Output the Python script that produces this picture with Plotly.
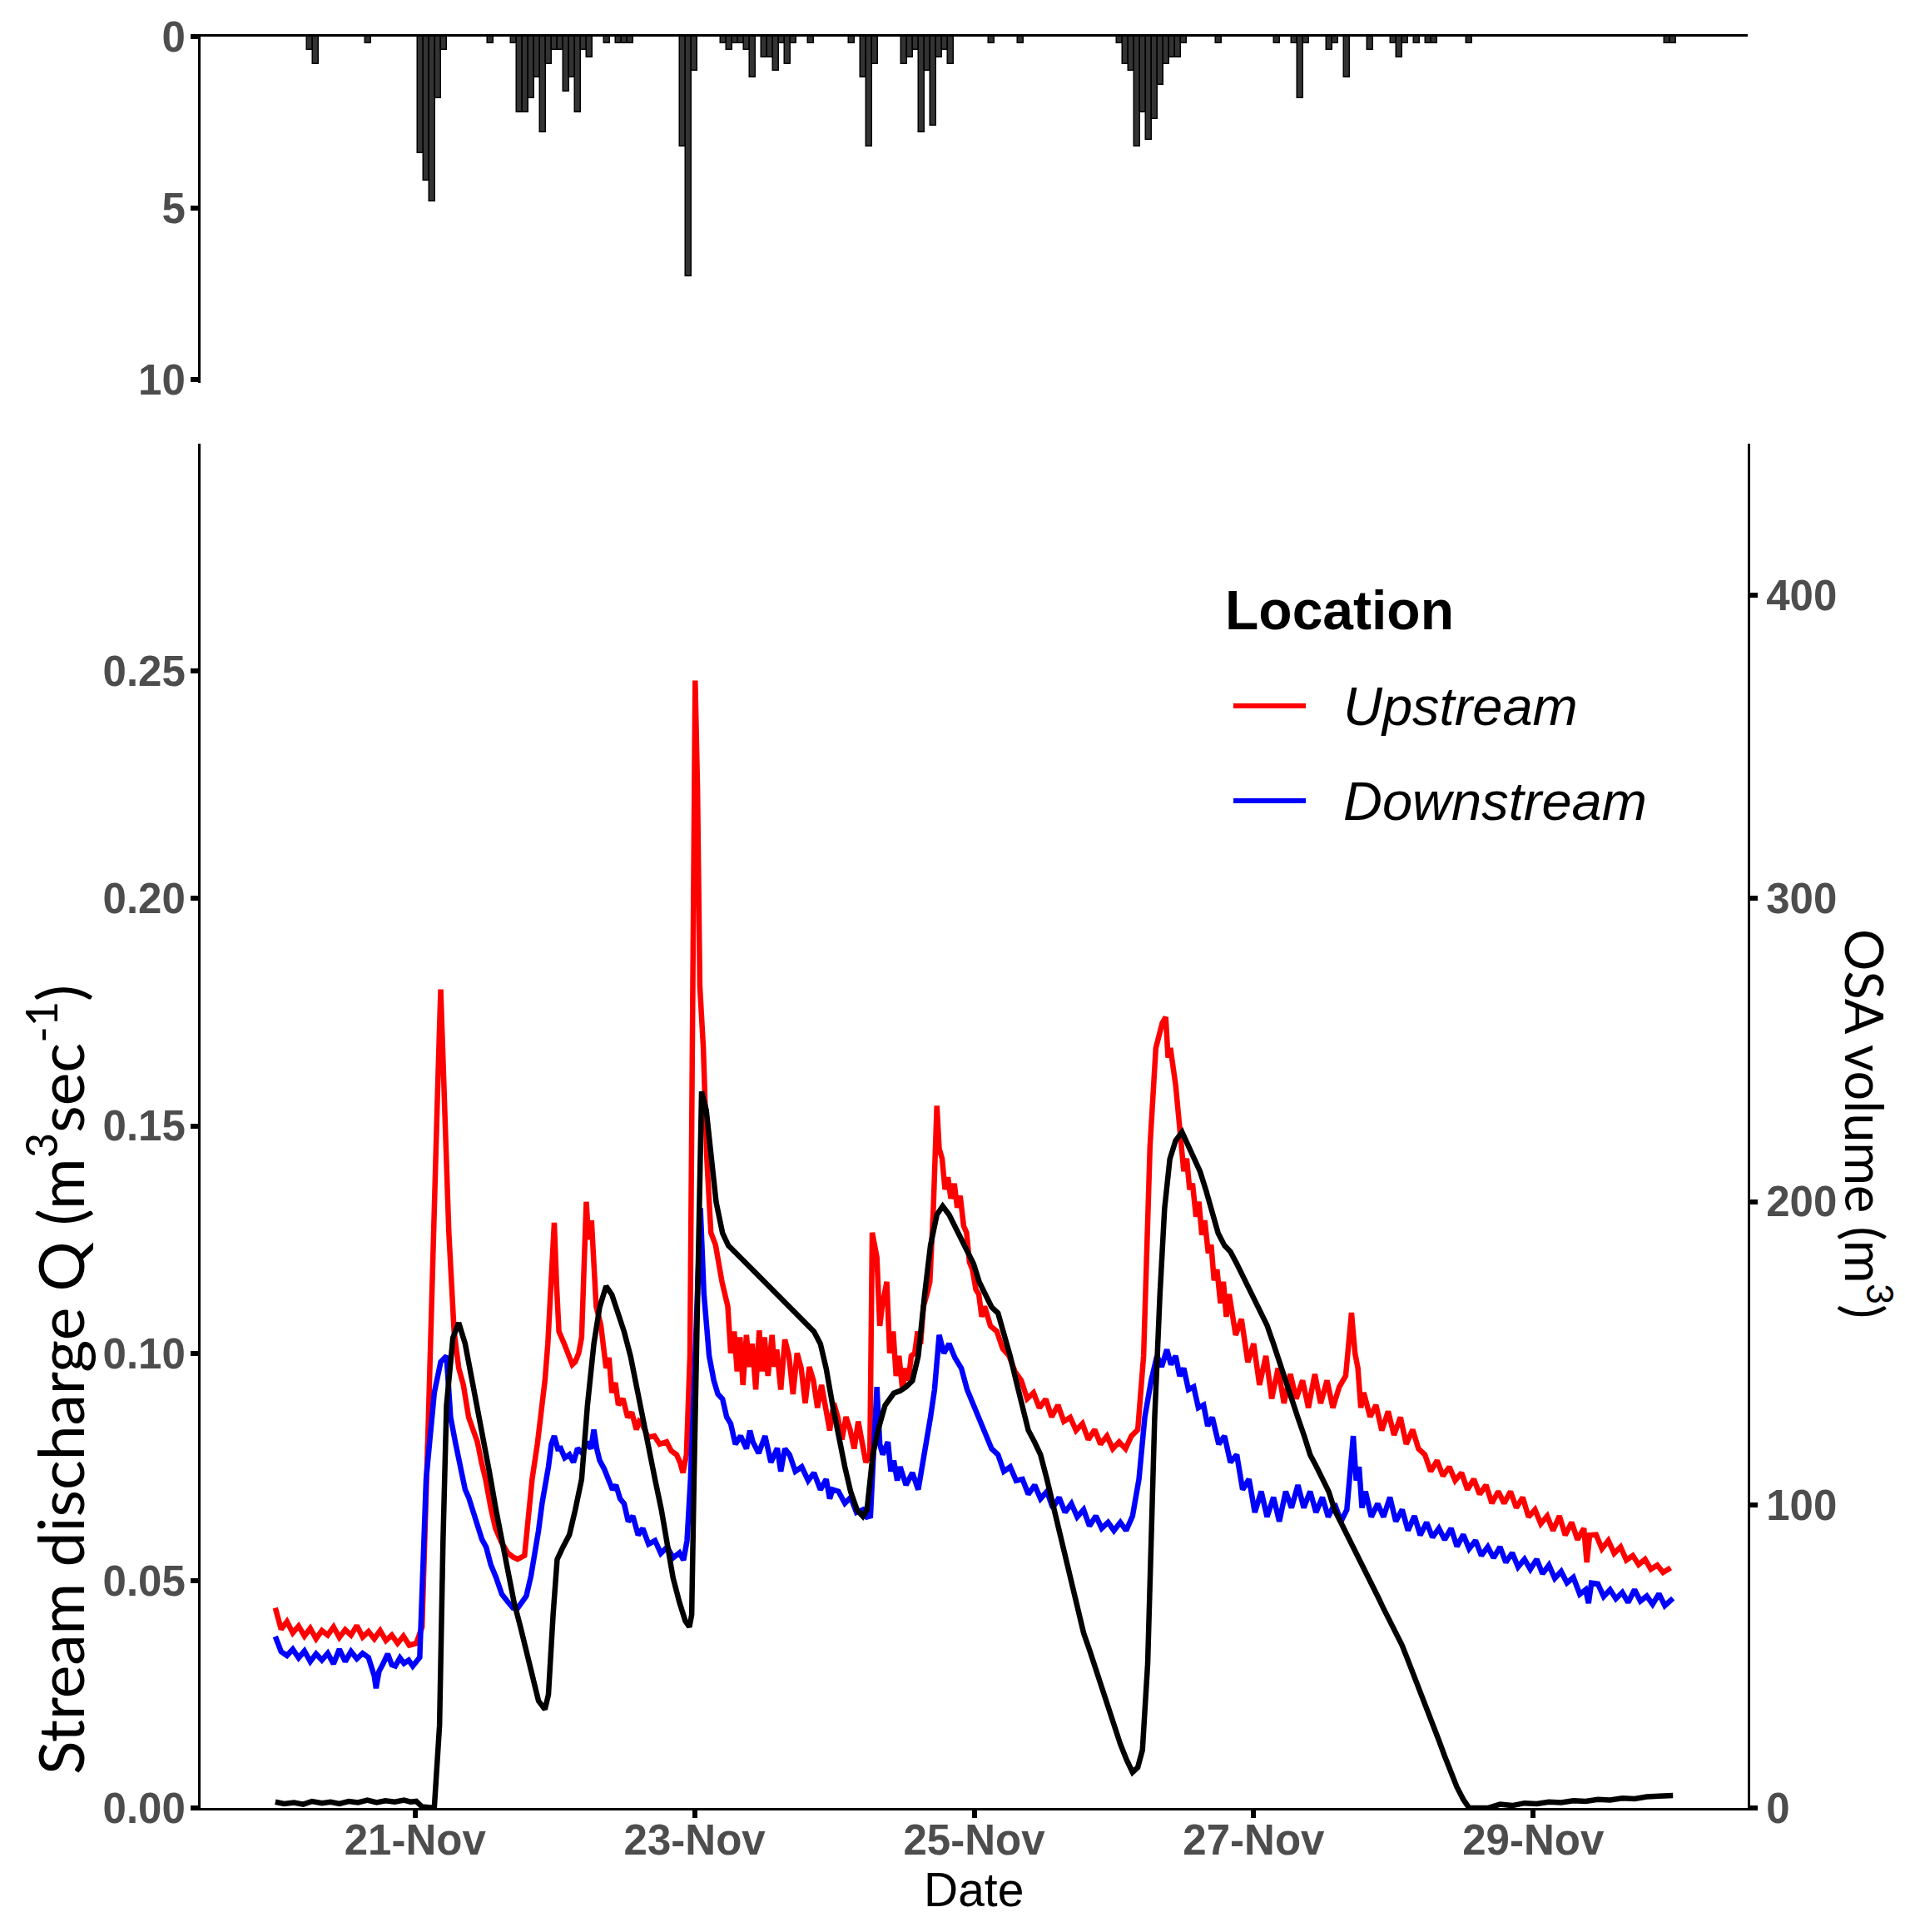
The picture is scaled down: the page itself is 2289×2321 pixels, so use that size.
import pandas as pd
import plotly.graph_objects as go

# ---------------- data ----------------
START = "2019-11-20 00:00"

# hourly rainfall (hours since START, mm)
rain_h = [6, 7, 16, 25, 26, 27, 28, 29, 37, 41, 42, 43, 44, 45, 46, 47, 48, 49, 50, 51, 52, 53, 54,
          57, 59, 60, 61, 70, 71, 72, 77, 78, 79, 80, 81, 82, 84, 85, 86, 87, 88, 89, 92, 99,
          101, 102, 103, 108, 109, 110, 111, 112, 113, 114, 115, 116, 123, 128,
          145, 146, 147, 148, 149, 150, 151, 152, 153, 154, 155, 156, 162, 172, 175, 176, 177,
          181, 182, 184, 188, 192, 193, 194, 196, 198, 199, 205, 239, 240]
rain_mm = [0.4, 0.8, 0.2, 3.4, 4.2, 4.8, 1.8, 0.4, 0.2, 0.2, 2.2, 2.2, 1.8, 1.2, 2.8, 0.8, 0.4, 0.4, 1.6, 1.2, 2.2, 0.4, 0.6,
           0.2, 0.2, 0.2, 0.2, 3.2, 7.0, 1.0, 0.2, 0.4, 0.2, 0.2, 0.4, 1.2, 0.6, 0.6, 1.0, 0.2, 0.8, 0.2, 0.2, 0.2,
           1.2, 3.2, 0.8, 0.8, 0.6, 0.4, 2.8, 1.0, 2.6, 0.6, 0.4, 0.8, 0.2, 0.2,
           0.2, 0.8, 1.0, 3.2, 2.2, 3.0, 2.4, 1.4, 0.8, 0.6, 0.6, 0.2, 0.2, 0.2, 0.2, 1.8, 0.2,
           0.4, 0.2, 1.2, 0.4, 0.2, 0.6, 0.2, 0.2, 0.2, 0.2, 0.2, 0.2, 0.2]

# Upstream discharge (hours since START, m3/s)
up_h = [0.0, 1.0, 2.0, 3.0, 4.0, 5.0, 6.0, 7.0, 8.0, 9.0, 10.0, 11.0, 12.0, 13.0, 14.0, 15.0, 16.0, 17.0, 18.0, 19.0,
        20.0, 21.0, 22.0, 23.0, 24.2, 25.2, 26.3, 27.3, 27.9, 28.4, 29.0, 29.8, 30.7, 31.5, 32.3, 33.2, 34.0, 34.7,
        35.4, 36.1, 37.0, 37.8, 38.8, 39.9, 40.8, 41.6, 42.8, 43.5, 44.1, 45.0, 45.8, 46.3, 46.8, 47.4, 47.9, 48.3,
        48.7, 49.6, 50.4, 51.0, 51.5, 52.1, 52.6, 53.0, 53.4, 53.8, 54.3, 55.1, 55.9, 56.8, 57.3, 57.8, 58.4, 58.9,
        59.7, 60.5, 61.2, 62.0, 62.5, 63.0, 64.0, 65.1, 66.0, 67.2, 68.0, 68.9, 69.5, 70.0, 70.6, 71.2, 71.8, 72.1,
        72.5, 72.9, 73.5, 74.1, 74.8, 75.6, 76.7, 77.7, 78.2, 78.8, 79.3, 79.8, 80.3, 80.9, 81.4, 81.9, 82.5, 83.1,
        83.6, 84.0, 84.6, 85.3, 85.7, 86.1, 86.8, 87.5, 88.2, 88.9, 89.6, 90.3, 91.0, 91.7, 92.4, 93.1, 93.8, 94.5,
        95.2, 95.9, 96.6, 97.3, 98.0, 98.7, 99.4, 100.1, 100.8, 101.4, 102.1, 102.5, 103.3, 103.8, 104.2, 105.0,
        105.5, 106.1, 106.6, 107.1, 107.7, 108.2, 108.7, 109.2, 109.8, 110.3, 110.8, 111.3, 111.9, 112.4, 113.0,
        113.6, 114.0, 114.5, 115.0, 115.5, 116.0, 116.6, 117.1, 117.6, 118.2, 118.7, 119.2, 119.7, 120.3, 120.8,
        121.3, 121.8, 122.8, 123.9, 124.9, 126.0, 127.0, 128.1, 129.1, 130.2, 131.2, 132.3, 133.3, 134.4, 135.4,
        136.5, 137.5, 138.6, 139.6, 140.7, 141.7, 142.8, 143.8, 144.9, 146.0, 147.0, 148.1, 149.1, 150.2, 151.2,
        152.3, 152.9, 153.3, 153.7, 154.6, 155.4, 156.0, 156.5, 157.0, 157.5, 158.1, 158.6, 159.1, 159.6, 160.2,
        160.7, 161.2, 161.7, 162.3, 162.8, 163.3, 163.8, 164.9, 165.9, 167.0, 168.0, 169.0, 170.1, 171.1, 172.2,
        173.2, 174.3, 175.3, 176.4, 177.4, 178.5, 179.5, 180.6, 181.6, 182.7, 183.8, 184.8, 185.4, 185.9, 186.4,
        186.9, 188.0, 189.0, 190.0, 191.1, 192.1, 193.2, 194.2, 195.3, 196.3, 197.4, 198.4, 199.5, 200.5, 201.6,
        202.6, 203.7, 204.7, 205.8, 206.8, 207.9, 208.9, 210.0, 211.0, 212.1, 213.1, 214.2, 215.2, 216.3, 217.3,
        218.4, 219.4, 220.5, 221.5, 222.6, 223.6, 224.7, 225.2, 225.7, 226.8, 227.8, 228.9, 229.9, 231.0, 232.0,
        233.1, 234.1, 235.2, 236.2, 237.3, 238.3, 239.6]
up_q = [0.0440, 0.0393, 0.0410, 0.0385, 0.0400, 0.0378, 0.0395, 0.0372, 0.0390, 0.0380, 0.0398, 0.0375, 0.0392,
        0.0380, 0.0401, 0.0376, 0.0388, 0.0372, 0.0390, 0.0368, 0.0380, 0.0362, 0.0378, 0.0358, 0.0362, 0.0398,
        0.0859, 0.1373, 0.1590, 0.1800, 0.1536, 0.1265, 0.1048, 0.0967, 0.0930, 0.0859, 0.0830, 0.0805, 0.0760,
        0.0723, 0.0660, 0.0615, 0.0585, 0.0561, 0.0552, 0.0547, 0.0555, 0.0640, 0.0723, 0.0800, 0.0886, 0.0940,
        0.1021, 0.1150, 0.1287, 0.1150, 0.1048, 0.1021, 0.0994, 0.0975, 0.0981, 0.1000, 0.1035, 0.1200, 0.1333,
        0.1250, 0.1292, 0.1103, 0.1062, 0.0967, 0.0990, 0.0913, 0.0935, 0.0886, 0.0900, 0.0859, 0.0870, 0.0832,
        0.0850, 0.0845, 0.0815, 0.0818, 0.0800, 0.0805, 0.0785, 0.0777, 0.0760, 0.0737, 0.0777, 0.0994, 0.1915,
        0.2479, 0.2240, 0.1807, 0.1671, 0.1428, 0.1265, 0.1238, 0.1157, 0.1103, 0.1000, 0.1048, 0.0960, 0.1035,
        0.0930, 0.1040, 0.0970, 0.1021, 0.0920, 0.1050, 0.0960, 0.1035, 0.0950, 0.1040, 0.0970, 0.1008, 0.0920,
        0.1030, 0.0994, 0.0910, 0.1000, 0.0967, 0.0890, 0.0970, 0.0940, 0.0880, 0.0930, 0.0886, 0.0830, 0.0890,
        0.0859, 0.0810, 0.0860, 0.0832, 0.0790, 0.0850, 0.0805, 0.0760, 0.0777, 0.1265, 0.1211, 0.1060, 0.1103,
        0.1157, 0.1000, 0.1048, 0.0950, 0.0994, 0.0920, 0.0967, 0.0940, 0.0994, 0.1000, 0.1048, 0.1020, 0.1103,
        0.1130, 0.1157, 0.1319, 0.1544, 0.1450, 0.1428, 0.1360, 0.1387, 0.1340, 0.1373, 0.1320, 0.1346, 0.1280,
        0.1265, 0.1200, 0.1184, 0.1140, 0.1130, 0.1080, 0.1103, 0.1060, 0.1048, 0.1010, 0.0994, 0.0960, 0.0940,
        0.0900, 0.0913, 0.0880, 0.0899, 0.0860, 0.0886, 0.0850, 0.0859, 0.0830, 0.0845, 0.0810, 0.0832, 0.0800,
        0.0818, 0.0790, 0.0805, 0.0790, 0.0818, 0.0832, 0.0994, 0.1455, 0.1671, 0.1726, 0.1739, 0.1650, 0.1671,
        0.1590, 0.1482, 0.1400, 0.1428, 0.1360, 0.1373, 0.1300, 0.1333, 0.1260, 0.1292, 0.1220, 0.1238, 0.1160,
        0.1184, 0.1110, 0.1157, 0.1080, 0.1130, 0.1040, 0.1075, 0.0980, 0.1021, 0.0930, 0.0994, 0.0900, 0.0967,
        0.0890, 0.0954, 0.0900, 0.0940, 0.0880, 0.0954, 0.0890, 0.0940, 0.0880, 0.0926, 0.0950, 0.1089, 0.1000,
        0.0967, 0.0880, 0.0913, 0.0860, 0.0886, 0.0830, 0.0872, 0.0820, 0.0859, 0.0800, 0.0832, 0.0790, 0.0777,
        0.0740, 0.0764, 0.0730, 0.0750, 0.0720, 0.0737, 0.0700, 0.0723, 0.0690, 0.0710, 0.0670, 0.0696, 0.0670,
        0.0696, 0.0660, 0.0683, 0.0640, 0.0656, 0.0625, 0.0642, 0.0610, 0.0642, 0.0600, 0.0628, 0.0590, 0.0615,
        0.0540, 0.0600, 0.0601, 0.0570, 0.0588, 0.0560, 0.0574, 0.0545, 0.0555, 0.0535, 0.0547, 0.0525, 0.0534,
        0.0518, 0.0528]

# Downstream discharge (hours since START, m3/s)
down_h = [0.0, 1.0, 2.0, 3.0, 4.0, 5.0, 6.0, 7.0, 8.0, 9.0, 10.0, 11.0, 12.0, 13.0, 14.0, 15.0, 16.0, 17.0, 17.3,
          17.8, 18.5, 19.3, 20.0, 20.6, 21.4, 22.1, 22.9, 23.6, 24.8, 25.9, 27.3, 28.4, 29.4, 30.1, 30.9, 31.5, 32.0,
          32.6, 33.2, 34.0, 34.7, 35.5, 36.2, 37.0, 37.9, 38.9, 40.0, 40.8, 41.6, 42.3, 43.1, 43.9, 44.6, 45.2, 45.8,
          46.4, 46.9, 47.4, 47.9, 48.5, 49.0, 49.7, 50.5, 51.2, 51.9, 52.7, 53.6, 54.2, 54.7, 55.2, 55.7, 56.5, 57.2,
          57.9, 58.5, 59.2, 59.9, 60.6, 61.4, 62.3, 63.1, 64.1, 65.2, 66.2, 67.3, 68.3, 69.4, 70.1, 70.7, 71.3, 72.1,
          73.0, 73.6, 74.5, 75.3, 76.0, 76.8, 77.5, 78.2, 79.0, 79.9, 80.9, 81.5, 82.0, 83.0, 84.1, 85.1, 86.2, 86.8,
          87.5, 88.3, 89.3, 90.4, 91.5, 92.5, 93.6, 94.6, 95.2, 95.7, 96.7, 97.8, 98.8, 99.8, 100.9, 101.6, 102.2,
          103.3, 103.8, 104.3, 105.2, 105.7, 106.2, 106.8, 107.3, 108.3, 109.4, 110.4, 111.5, 112.5, 113.2, 114.0,
          114.8, 115.7, 116.7, 117.8, 118.8, 119.9, 120.9, 122.0, 123.0, 124.1, 125.1, 126.2, 127.2, 128.3, 129.3,
          130.4, 131.4, 132.5, 133.5, 134.6, 135.6, 136.7, 137.7, 138.8, 139.8, 140.9, 141.9, 143.0, 144.0, 145.1,
          146.1, 147.2, 148.3, 149.3, 150.4, 151.4, 152.2, 153.1, 153.8, 154.6, 155.3, 156.0, 156.8, 157.7, 158.5,
          159.4, 160.1, 160.9, 162.0, 163.0, 164.0, 165.1, 166.1, 167.2, 168.2, 169.3, 170.3, 171.4, 172.4, 173.5,
          174.5, 175.6, 176.6, 177.7, 178.7, 179.8, 180.8, 181.9, 183.0, 184.0, 185.1, 185.6, 186.1, 186.6, 187.2,
          188.2, 189.3, 190.3, 191.4, 192.4, 193.5, 194.5, 195.6, 196.6, 197.7, 198.7, 199.8, 200.8, 201.9, 202.9,
          204.0, 205.0, 206.1, 207.1, 208.2, 209.2, 210.3, 211.3, 212.4, 213.4, 214.5, 215.5, 216.6, 217.6, 218.7,
          219.7, 220.8, 221.8, 222.9, 224.0, 225.0, 225.5, 226.0, 227.1, 228.1, 229.2, 230.2, 231.3, 232.3, 233.4,
          234.4, 235.5, 236.5, 237.6, 238.6, 240.0]
down_q = [0.0377, 0.0344, 0.0335, 0.0349, 0.0330, 0.0345, 0.0322, 0.0339, 0.0325, 0.0340, 0.0317, 0.0349, 0.0322,
          0.0344, 0.0328, 0.0340, 0.0331, 0.0290, 0.0263, 0.0300, 0.0317, 0.0339, 0.0315, 0.0312, 0.0330, 0.0318,
          0.0325, 0.0312, 0.0331, 0.0723, 0.0913, 0.0981, 0.0994, 0.0859, 0.0805, 0.0770, 0.0737, 0.0700, 0.0683,
          0.0650, 0.0615, 0.0590, 0.0574, 0.0535, 0.0507, 0.0470, 0.0452, 0.0440, 0.0439, 0.0450, 0.0466, 0.0510,
          0.0561, 0.0610, 0.0669, 0.0710, 0.0750, 0.0800, 0.0818, 0.0790, 0.0791, 0.0770, 0.0777, 0.0760, 0.0791,
          0.0780, 0.0805, 0.0790, 0.0832, 0.0790, 0.0764, 0.0745, 0.0723, 0.0700, 0.0710, 0.0680, 0.0669, 0.0630,
          0.0642, 0.0600, 0.0615, 0.0580, 0.0588, 0.0560, 0.0574, 0.0550, 0.0561, 0.0545, 0.0588, 0.0723, 0.0994,
          0.1319, 0.1130, 0.0994, 0.0940, 0.0910, 0.0899, 0.0860, 0.0845, 0.0800, 0.0818, 0.0790, 0.0830, 0.0805,
          0.0780, 0.0818, 0.0760, 0.0791, 0.0740, 0.0790, 0.0777, 0.0740, 0.0750, 0.0720, 0.0737, 0.0700, 0.0723,
          0.0680, 0.0700, 0.0696, 0.0670, 0.0683, 0.0650, 0.0656, 0.0640, 0.0642, 0.0926, 0.0800, 0.0777, 0.0805,
          0.0740, 0.0764, 0.0720, 0.0750, 0.0710, 0.0737, 0.0700, 0.0777, 0.0859, 0.0920, 0.1040, 0.1000, 0.1021,
          0.0990, 0.0967, 0.0920, 0.0886, 0.0850, 0.0818, 0.0790, 0.0777, 0.0740, 0.0750, 0.0720, 0.0723, 0.0690,
          0.0710, 0.0680, 0.0696, 0.0660, 0.0683, 0.0650, 0.0669, 0.0640, 0.0656, 0.0620, 0.0642, 0.0615, 0.0628,
          0.0610, 0.0628, 0.0610, 0.0642, 0.0723, 0.0859, 0.0940, 0.0994, 0.0970, 0.1008, 0.0975, 0.0994, 0.0950,
          0.0967, 0.0920, 0.0926, 0.0880, 0.0886, 0.0840, 0.0859, 0.0800, 0.0818, 0.0760, 0.0777, 0.0700, 0.0723,
          0.0650, 0.0696, 0.0640, 0.0683, 0.0630, 0.0696, 0.0660, 0.0710, 0.0660, 0.0696, 0.0650, 0.0683, 0.0640,
          0.0669, 0.0630, 0.0656, 0.0818, 0.0720, 0.0750, 0.0660, 0.0696, 0.0640, 0.0669, 0.0640, 0.0683, 0.0630,
          0.0656, 0.0610, 0.0642, 0.0600, 0.0628, 0.0595, 0.0615, 0.0590, 0.0615, 0.0575, 0.0601, 0.0570, 0.0588,
          0.0555, 0.0574, 0.0550, 0.0574, 0.0540, 0.0561, 0.0530, 0.0547, 0.0525, 0.0547, 0.0515, 0.0534, 0.0505,
          0.0520, 0.0495, 0.0507, 0.0470, 0.0480, 0.0450, 0.0495, 0.0493, 0.0465, 0.0480, 0.0460, 0.0474, 0.0452,
          0.0480, 0.0455, 0.0466, 0.0448, 0.0471, 0.0445, 0.0461]

# OSA volume (hours since START, m3)
osa_h = [0.0, 1.5, 3.2, 4.8, 6.3, 8.0, 9.5, 11.0, 12.6, 14.2, 15.8, 17.4, 18.9, 20.5, 22.1, 23.2, 24.2, 25.2, 27.3,
         28.2, 28.8, 29.4, 30.5, 31.5, 32.6, 33.6, 34.7, 35.8, 36.8, 37.9, 38.9, 40.0, 41.0, 42.1, 43.1, 44.2, 45.2,
         46.3, 46.9, 47.7, 48.4, 49.4, 50.5, 51.5, 52.6, 53.6, 54.7, 55.7, 56.8, 57.8, 58.9, 59.9, 61.0, 62.0, 63.1,
         64.2, 65.2, 66.3, 67.3, 68.3, 69.4, 70.4, 71.1, 71.5, 71.9, 72.6, 73.2, 74.0, 74.9, 75.7, 76.8, 77.8, 79.9,
         82.0, 84.1, 86.2, 88.3, 90.4, 92.5, 93.6, 94.6, 95.7, 96.7, 97.8, 98.8, 99.9, 100.9, 101.6, 102.6, 103.5,
         104.7, 106.2, 107.3, 108.3, 109.4, 110.4, 111.5, 112.5, 113.6, 114.6, 115.7, 116.7, 117.8, 118.8, 119.9,
         120.9, 122.0, 123.0, 124.1, 125.1, 126.2, 127.2, 128.3, 129.3, 130.4, 131.4, 132.5, 133.5, 134.6, 135.6,
         136.7, 137.8, 138.8, 139.9, 140.9, 142.0, 143.0, 144.1, 145.1, 146.2, 147.2, 148.1, 148.9, 149.8, 150.4,
         151.0, 151.9, 152.7, 153.6, 154.6, 155.7, 156.7, 157.7, 158.8, 159.8, 160.9, 161.9, 163.0, 164.0, 165.1,
         166.1, 167.2, 168.2, 169.3, 170.3, 171.4, 172.4, 173.5, 174.5, 175.6, 176.7, 177.7, 178.8, 179.8, 180.9,
         181.9, 183.0, 184.0, 185.1, 186.1, 187.2, 188.2, 189.3, 190.3, 191.4, 192.4, 193.5, 194.5, 195.6, 196.6,
         197.7, 198.7, 199.8, 200.8, 201.9, 202.9, 204.0, 205.0, 208.2, 210.3, 212.4, 214.5, 216.6, 218.7, 220.8,
         222.9, 225.0, 227.1, 229.2, 231.3, 233.4, 235.5, 237.6, 240.0]
osa_v = [2.0, 1.4, 1.8, 1.2, 2.2, 1.6, 2.0, 1.4, 2.2, 1.8, 2.6, 1.8, 2.4, 2.0, 2.6, 2.0, 2.2, 0.4, 0.0,
         27.2, 88.1, 132.8, 155.1, 160.0, 153.1, 142.9, 132.8, 122.6, 110.4, 98.3, 88.1, 78.0, 67.8, 59.7, 51.6,
         43.4, 35.3, 32.5, 37.4, 63.7, 82.0, 86.1, 90.1, 98.3, 108.4, 132.8, 153.1, 165.2, 172.1, 169.3, 163.2,
         157.1, 149.0, 138.9, 128.7, 118.6, 108.4, 98.3, 88.1, 75.9, 67.8, 61.7, 59.7, 63.7, 108.4, 189.6, 236.3,
         230.2, 214.0, 199.8, 189.6, 185.5, 181.5, 177.4, 173.4, 169.3, 165.2, 161.2, 157.1, 153.1, 144.9, 132.8,
         122.6, 112.5, 104.3, 98.3, 96.2, 98.3, 116.5, 124.6, 132.8, 136.8, 137.6, 138.9, 140.9, 149.0, 169.3,
         185.5, 195.7, 198.5, 195.7, 191.6, 187.6, 183.5, 179.5, 173.4, 169.3, 165.2, 163.2, 157.1, 149.0, 140.9,
         132.8, 124.6, 120.6, 116.5, 108.4, 100.3, 92.2, 84.0, 73.9, 65.8, 57.7, 51.6, 45.5, 39.4, 33.3, 27.2,
         21.1, 15.8, 11.8, 13.4, 19.1, 47.5, 88.1, 128.7, 169.3, 197.7, 214.0, 220.1, 222.9, 218.8, 214.0, 209.9,
         203.8, 195.7, 189.6, 185.5, 183.5, 179.5, 175.4, 171.3, 167.3, 163.2, 159.2, 153.1, 147.0, 140.9, 134.8,
         128.7, 122.6, 116.5, 112.5, 108.4, 104.3, 98.3, 94.2, 90.1, 86.1, 82.0, 78.0, 73.9, 69.8, 65.8, 61.7,
         57.7, 53.6, 48.7, 43.4, 38.6, 33.3, 28.0, 22.3, 17.1, 11.8, 6.9, 2.8, 0.0, 0.0, 1.2, 0.8, 1.6, 1.4, 2.0,
         1.8, 2.4, 2.2, 2.8, 2.6, 3.2, 3.0, 3.7, 3.9, 4.1]

tick_dates = ["2019-11-21", "2019-11-23", "2019-11-25", "2019-11-27", "2019-11-29"]
tick_labels = ["21-Nov", "23-Nov", "25-Nov", "27-Nov", "29-Nov"]
q_ticks = [0.0, 0.05, 0.10, 0.15, 0.20, 0.25]
v_ticks = [0, 100, 200, 300, 400]
rain_ticks = [0, 5, 10]
legend_names = ["Upstream", "Downstream"]


def to_time(hours):
    base = pd.Timestamp(START)
    return [base + pd.Timedelta(hours=h) for h in hours]


# ---------------- figure ----------------
W, H = 2289, 2321
X_DOM = [241 / W, 2100 / W]
TOP_DOM = [1 - 460 / H, 1 - 44 / H]
MAIN_DOM = [1 - 2172 / H, 1 - 533 / H]
X_RANGE = ["2019-11-19 11:10", "2019-11-30 12:50"]

TICKFONT = dict(family="Liberation Sans, Arial, sans-serif", size=51, color="#4D4D4D", weight="bold")
SANS = "Liberation Sans, Arial, sans-serif"
TITLEFONT = "Lato, 'Open Sans', sans-serif"
LW = 6.5

fig = go.Figure()

fig.add_trace(go.Bar(
    x=to_time(rain_h), y=rain_mm, xaxis="x2", yaxis="y2",
    width=3600 * 1000,
    marker=dict(color="#333333", line=dict(color="black", width=1.5)),
    name="Rainfall", showlegend=False,
))

fig.add_trace(go.Scatter(
    x=to_time(up_h), y=up_q, mode="lines", name=legend_names[0],
    line=dict(color="#FF0000", width=LW), xaxis="x", yaxis="y", showlegend=False,
))
fig.add_trace(go.Scatter(
    x=to_time(down_h), y=down_q, mode="lines", name=legend_names[1],
    line=dict(color="#0000FF", width=LW), xaxis="x", yaxis="y", showlegend=False,
))
fig.add_trace(go.Scatter(
    x=to_time(osa_h), y=osa_v, mode="lines", name="OSA volume",
    line=dict(color="black", width=LW), xaxis="x", yaxis="y3", showlegend=False,
))

axis_common = dict(showgrid=False, zeroline=False, showline=True, linecolor="black", linewidth=3,
                   ticks="outside", ticklen=9, tickwidth=6, tickcolor="black", tickfont=TICKFONT,
                   automargin=False)

fig.update_layout(
    template="none",
    width=W, height=H,
    margin=dict(l=0, r=0, t=0, b=0, pad=0),
    paper_bgcolor="white", plot_bgcolor="white",
    showlegend=False, bargap=0,
    xaxis=dict(domain=X_DOM, anchor="y", type="date", range=X_RANGE,
               tickvals=tick_dates, ticktext=tick_labels, ticklabelstandoff=-17, **axis_common),
    yaxis=dict(domain=MAIN_DOM, anchor="x", range=[0, 0.3], tickvals=q_ticks,
               tickformat=".2f", ticklabelstandoff=-4, **axis_common),
    yaxis3=dict(overlaying="y", side="right", anchor="x", range=[0, 450], tickvals=v_ticks,
                **axis_common),
    xaxis2=dict(domain=X_DOM, anchor="y2", type="date", range=X_RANGE, side="top",
                showticklabels=False, ticks="", showgrid=False, zeroline=False, automargin=False,
                showline=True, linecolor="black", linewidth=3),
    yaxis2=dict(domain=TOP_DOM, anchor="x2", range=[10.1, 0], tickvals=rain_ticks,
                ticklabelstandoff=-4, **axis_common),
)

# axis titles
fig.add_annotation(text="Stream discharge Q (m<sup>3</sup>sec<sup>-1</sup>)", xref="paper", yref="paper",
                   x=67 / W, y=1 - 1658 / H, xanchor="center", yanchor="middle", textangle=-90,
                   showarrow=False, font=dict(family=TITLEFONT, size=75, color="black"))
fig.add_annotation(text="OSA volume (m<sup>3</sup>)", xref="paper", yref="paper",
                   x=2246 / W, y=1 - 1350 / H, xanchor="center", yanchor="middle", textangle=90,
                   showarrow=False, font=dict(family=TITLEFONT, size=63, color="black"))
fig.add_annotation(text="Date", xref="paper", yref="paper", x=1170 / W, y=1 - 2270 / H,
                   xanchor="center", yanchor="middle",
                   showarrow=False, font=dict(family=SANS, size=57, color="black"))

# legend (drawn by hand for ggplot-like long keys)
fig.add_annotation(text="<b>Location</b>", xref="paper", yref="paper", x=1470 / W, y=1 - 733 / H,
                   xanchor="left", yanchor="middle", showarrow=False,
                   font=dict(family=SANS, size=66, color="black"))
leg_colors = ["#FF0000", "#0000FF"]
leg_y = [848, 962]
for name, col, yy in zip(legend_names, leg_colors, leg_y):
    fig.add_shape(type="line", xref="paper", yref="paper", x0=1482 / W, x1=1569 / W,
                  y0=1 - yy / H, y1=1 - yy / H, line=dict(color=col, width=6))
    fig.add_annotation(text=name, xref="paper", yref="paper", x=1612 / W, y=1 - yy / H,
                       xanchor="left", yanchor="middle", showarrow=False,
                       font=dict(family=SANS, size=65, color="black", style="italic"))

fig.write_html("out.html", config={"displayModeBar": False},
               post_script="document.body.style.margin='0';document.body.style.padding='0';")
